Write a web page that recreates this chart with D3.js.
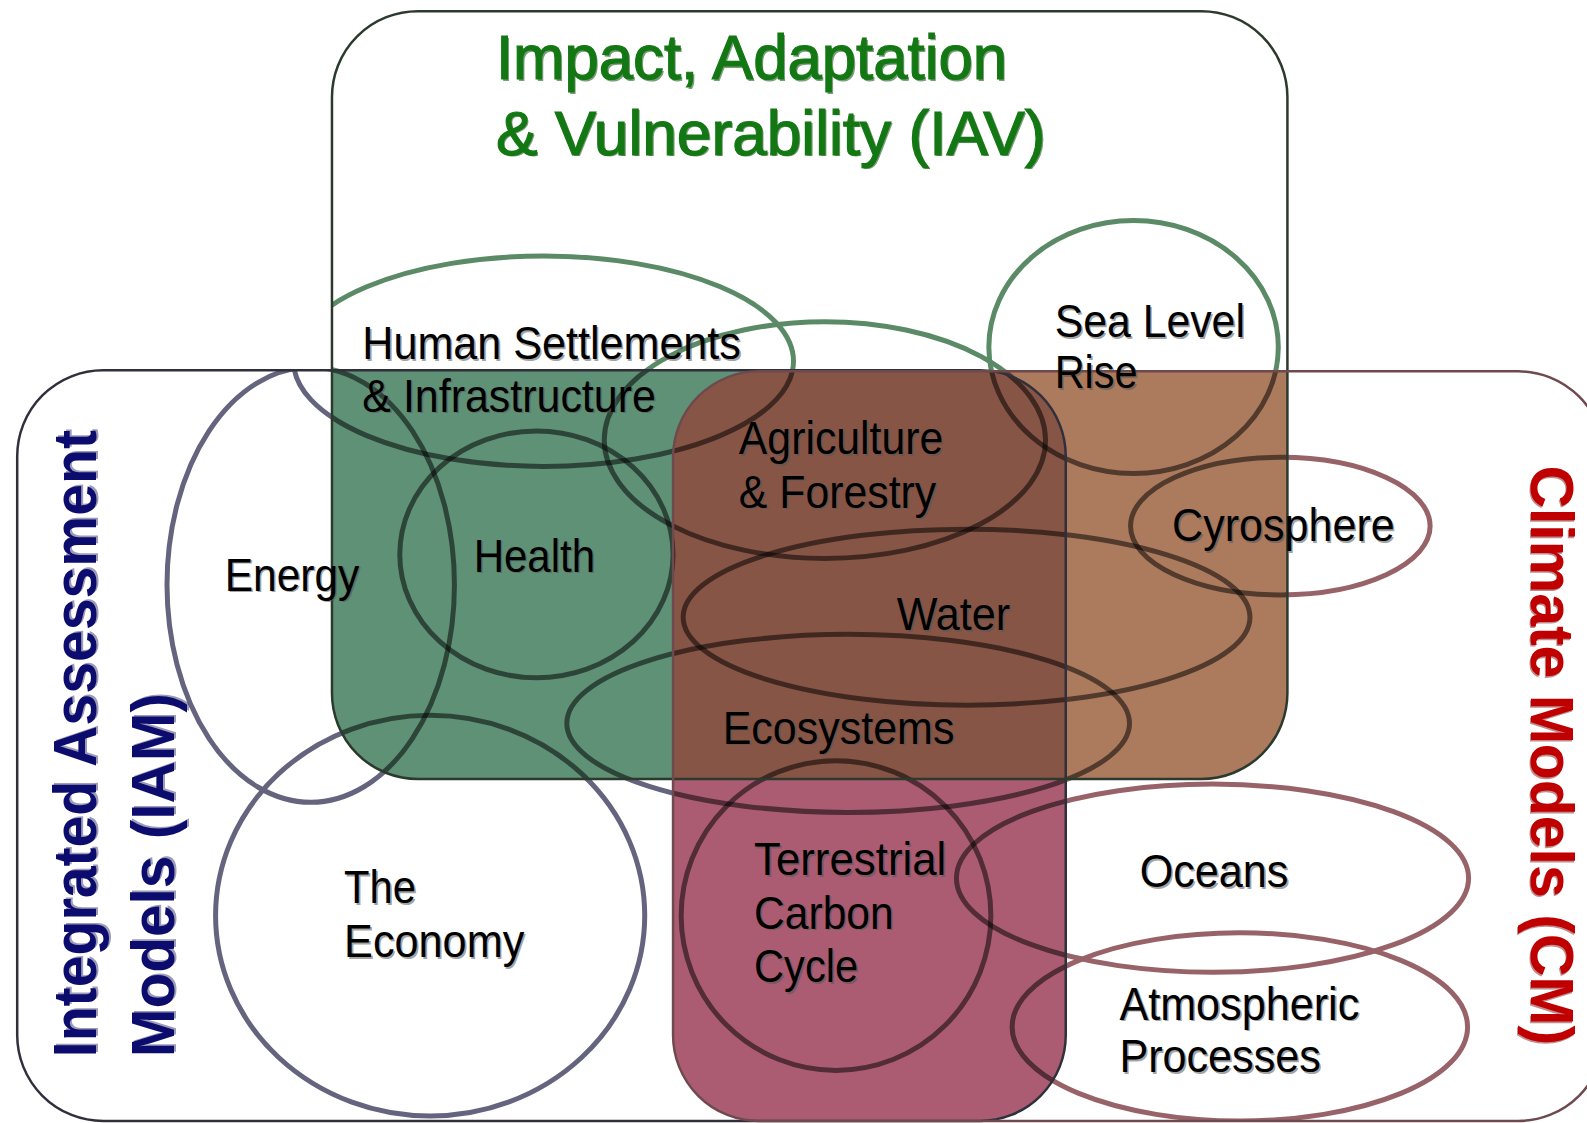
<!DOCTYPE html>
<html>
<head>
<meta charset="utf-8">
<script src="https://cdn.jsdelivr.net/npm/d3@7"></script>
<style>
  html, body { margin: 0; padding: 0; background: #fff; }
  svg { display: block; }
</style>
</head>
<body>
<svg id="chart"></svg>
<script>
"use strict";

const SET_KEYS   = ["IAM", "IAV", "CM"];
const SET_BOUNDS = [[17, 366, 1053, 1108], [328, 11, 1272, 770], [665, 367, 1585, 1108]];
const SET_LINE   = ["#64647f", "#5b8a66", "#976369"];
const SET_EDGE   = ["#30303c", "#2c3a2e", "#6e4a4e"];

/* overlap zones, drawn in this order (triple overlap last) */
const ZONE_SETS = [["IAV", "IAM"], ["IAV", "CM"], ["IAM", "CM"], ["IAV", "IAM", "CM"]];
const ZONE_FILL = ["#5f9176", "#ac7b5e", "#ab5c73", "#875546"];

const TOPICS    = ["Human Settlements", "Agriculture", "Sea Level", "Health", "Energy", "Economy",
                   "Terrestrial Carbon", "Water", "Ecosystems", "Cyrosphere", "Oceans", "Atmospheric"];
const TOPIC_CX  = [537, 815, 1120, 530, 307, 425, 826, 955, 838, 1265, 1198, 1225];
const TOPIC_CY  = [357, 435, 343, 548, 578, 905, 905, 610, 715, 520, 868, 1015];
const TOPIC_RX  = [247, 218, 143, 135, 142, 212, 153, 280, 278, 148, 253, 225];
const TOPIC_RY  = [104, 117, 125, 122, 215, 198, 153, 87, 88, 68, 93, 93];

const LABEL_TEXT = ["Human Settlements", "& Infrastructure", "Sea Level", "Rise", "Agriculture",
                    "& Forestry", "Energy", "Health", "Cyrosphere", "Water", "Ecosystems", "The",
                    "Economy", "Terrestrial", "Carbon", "Cycle", "Oceans", "Atmospheric", "Processes"];
const LABEL_X    = [358, 358, 1042, 1042, 730, 730, 222, 468, 1158, 886, 714, 340, 340, 745, 745, 745, 1126, 1106, 1106];
const LABEL_Y    = [355, 407, 333, 384, 449, 502, 584, 565, 535, 623, 735, 893, 946, 865, 918, 971, 877, 1008, 1060];
const LABEL_W    = [374, 290, 188, 82, 202, 195, 133, 120, 220, 112, 229, 71, 178, 190, 138, 103, 147, 237, 199];

const TITLE_LINES = ["Impact, Adaptation", "& Vulnerability (IAV)"];
const TITLE_X     = [490, 490];
const TITLE_Y     = [78, 153];
const TITLE_W     = [505, 543];

const IAM_LINES = ["Integrated Assessment", "Models (IAM)"];
const IAM_BASE  = [95, 172];
const IAM_START = [1045, 1045];
const IAM_LEN   = [620, 360];

const CM_LINES  = ["Climate Models (CM)"];
const CM_BASE   = [1513];
const CM_START  = [460];
const CM_LEN    = [573];

/* ── Scaffold ─────────────────────────────────────────────────────── */

const W = 1587, H = 1123;
const x = d3.scaleLinear().domain([0, 1568]).range([0, W]);
const y = d3.scaleLinear().domain([0, 1110]).range([0, H]);
const R = 86;

const svg = d3.select("#chart").attr("width", W).attr("height", H);
svg.append("rect").attr("width", W).attr("height", H).attr("fill", "#fff");

const defs = svg.append("defs");
SET_KEYS.forEach(function (k, i) {
  const b = SET_BOUNDS[i];
  defs.append("clipPath").attr("id", "clip-" + k)
    .append("rect")
    .attr("x", x(b[0])).attr("y", y(b[1]))
    .attr("width", x(b[2]) - x(b[0])).attr("height", y(b[3]) - y(b[1]))
    .attr("rx", R).attr("ry", R);
});

const topics = TOPICS.map(function (t, i) {
  return { name: t, cx: TOPIC_CX[i], cy: TOPIC_CY[i], rx: TOPIC_RX[i], ry: TOPIC_RY[i] };
});

function drawTopics(g, stroke, opacity) {
  g.selectAll("ellipse").data(topics).join("ellipse")
    .attr("cx", function (d) { return x(d.cx); })
    .attr("cy", function (d) { return y(d.cy); })
    .attr("rx", function (d) { return x(d.rx); })
    .attr("ry", function (d) { return y(d.ry); })
    .attr("fill", "none")
    .attr("stroke", stroke)
    .attr("stroke-opacity", opacity)
    .attr("stroke-width", 5);
}

function nest(parent, keys) {
  let g = parent;
  keys.forEach(function (k) { g = g.append("g").attr("clip-path", "url(#clip-" + k + ")"); });
  return g;
}

/* topic outlines inside each set, tinted with the set colour */
SET_KEYS.forEach(function (k, i) {
  drawTopics(nest(svg, [k]), SET_LINE[i], 1);
});

/* overlap zones */
ZONE_SETS.forEach(function (keys, i) {
  const g = nest(svg, keys);
  g.append("rect").attr("width", W).attr("height", H).attr("fill", ZONE_FILL[i]);
  drawTopics(g.append("g"), "#000", 0.52);
});

/* set outlines */
SET_KEYS.forEach(function (k, i) {
  const b = SET_BOUNDS[i];
  svg.append("rect")
    .attr("x", x(b[0])).attr("y", y(b[1]))
    .attr("width", x(b[2]) - x(b[0])).attr("height", y(b[3]) - y(b[1]))
    .attr("rx", R).attr("ry", R)
    .attr("fill", "none")
    .attr("stroke", SET_EDGE[i])
    .attr("stroke-width", 2.5);
});

/* ── Text ─────────────────────────────────────────────────────────── */

const FONT = "'Liberation Sans', Arial, Helvetica, sans-serif";

function label(g, txt, px, py, w, size, weight, fill, shadow, thick) {
  if (shadow) {
    g.append("text")
      .attr("x", px + 1.6).attr("y", py + 1.6)
      .attr("font-family", FONT).attr("font-size", size).attr("font-weight", weight)
      .attr("textLength", w).attr("lengthAdjust", "spacingAndGlyphs")
      .attr("fill", shadow).attr("fill-opacity", 0.55)
      .text(txt);
  }
  g.append("text")
    .attr("x", px).attr("y", py)
    .attr("font-family", FONT).attr("font-size", size).attr("font-weight", weight)
    .attr("textLength", w).attr("lengthAdjust", "spacingAndGlyphs")
    .attr("fill", fill)
    .attr("stroke", thick ? fill : null)
    .attr("stroke-width", thick || null)
    .text(txt);
}

const labels = svg.append("g");
LABEL_TEXT.forEach(function (t, i) {
  label(labels, t, x(LABEL_X[i]), y(LABEL_Y[i]), x(LABEL_W[i]), 47, "normal", "#000", "#555");
});

TITLE_LINES.forEach(function (t, i) {
  label(svg, t, x(TITLE_X[i]), y(TITLE_Y[i]), x(TITLE_W[i]), 63, "normal", "#137813", "#0b4d0b", 1.2);
});

IAM_LINES.forEach(function (t, i) {
  const g = svg.append("g")
    .attr("transform", "translate(" + x(IAM_BASE[i]) + "," + y(IAM_START[i]) + ") rotate(-90)");
  label(g, t, 0, 0, y(IAM_LEN[i]), 62, "bold", "#0c0c6e", "#4a4a80");
});

CM_LINES.forEach(function (t, i) {
  const g = svg.append("g")
    .attr("transform", "translate(" + x(CM_BASE[i]) + "," + y(CM_START[i]) + ") rotate(90)");
  label(g, t, 0, 0, y(CM_LEN[i]), 62, "bold", "#c00000", "#8a3030");
});
</script>
</body>
</html>
